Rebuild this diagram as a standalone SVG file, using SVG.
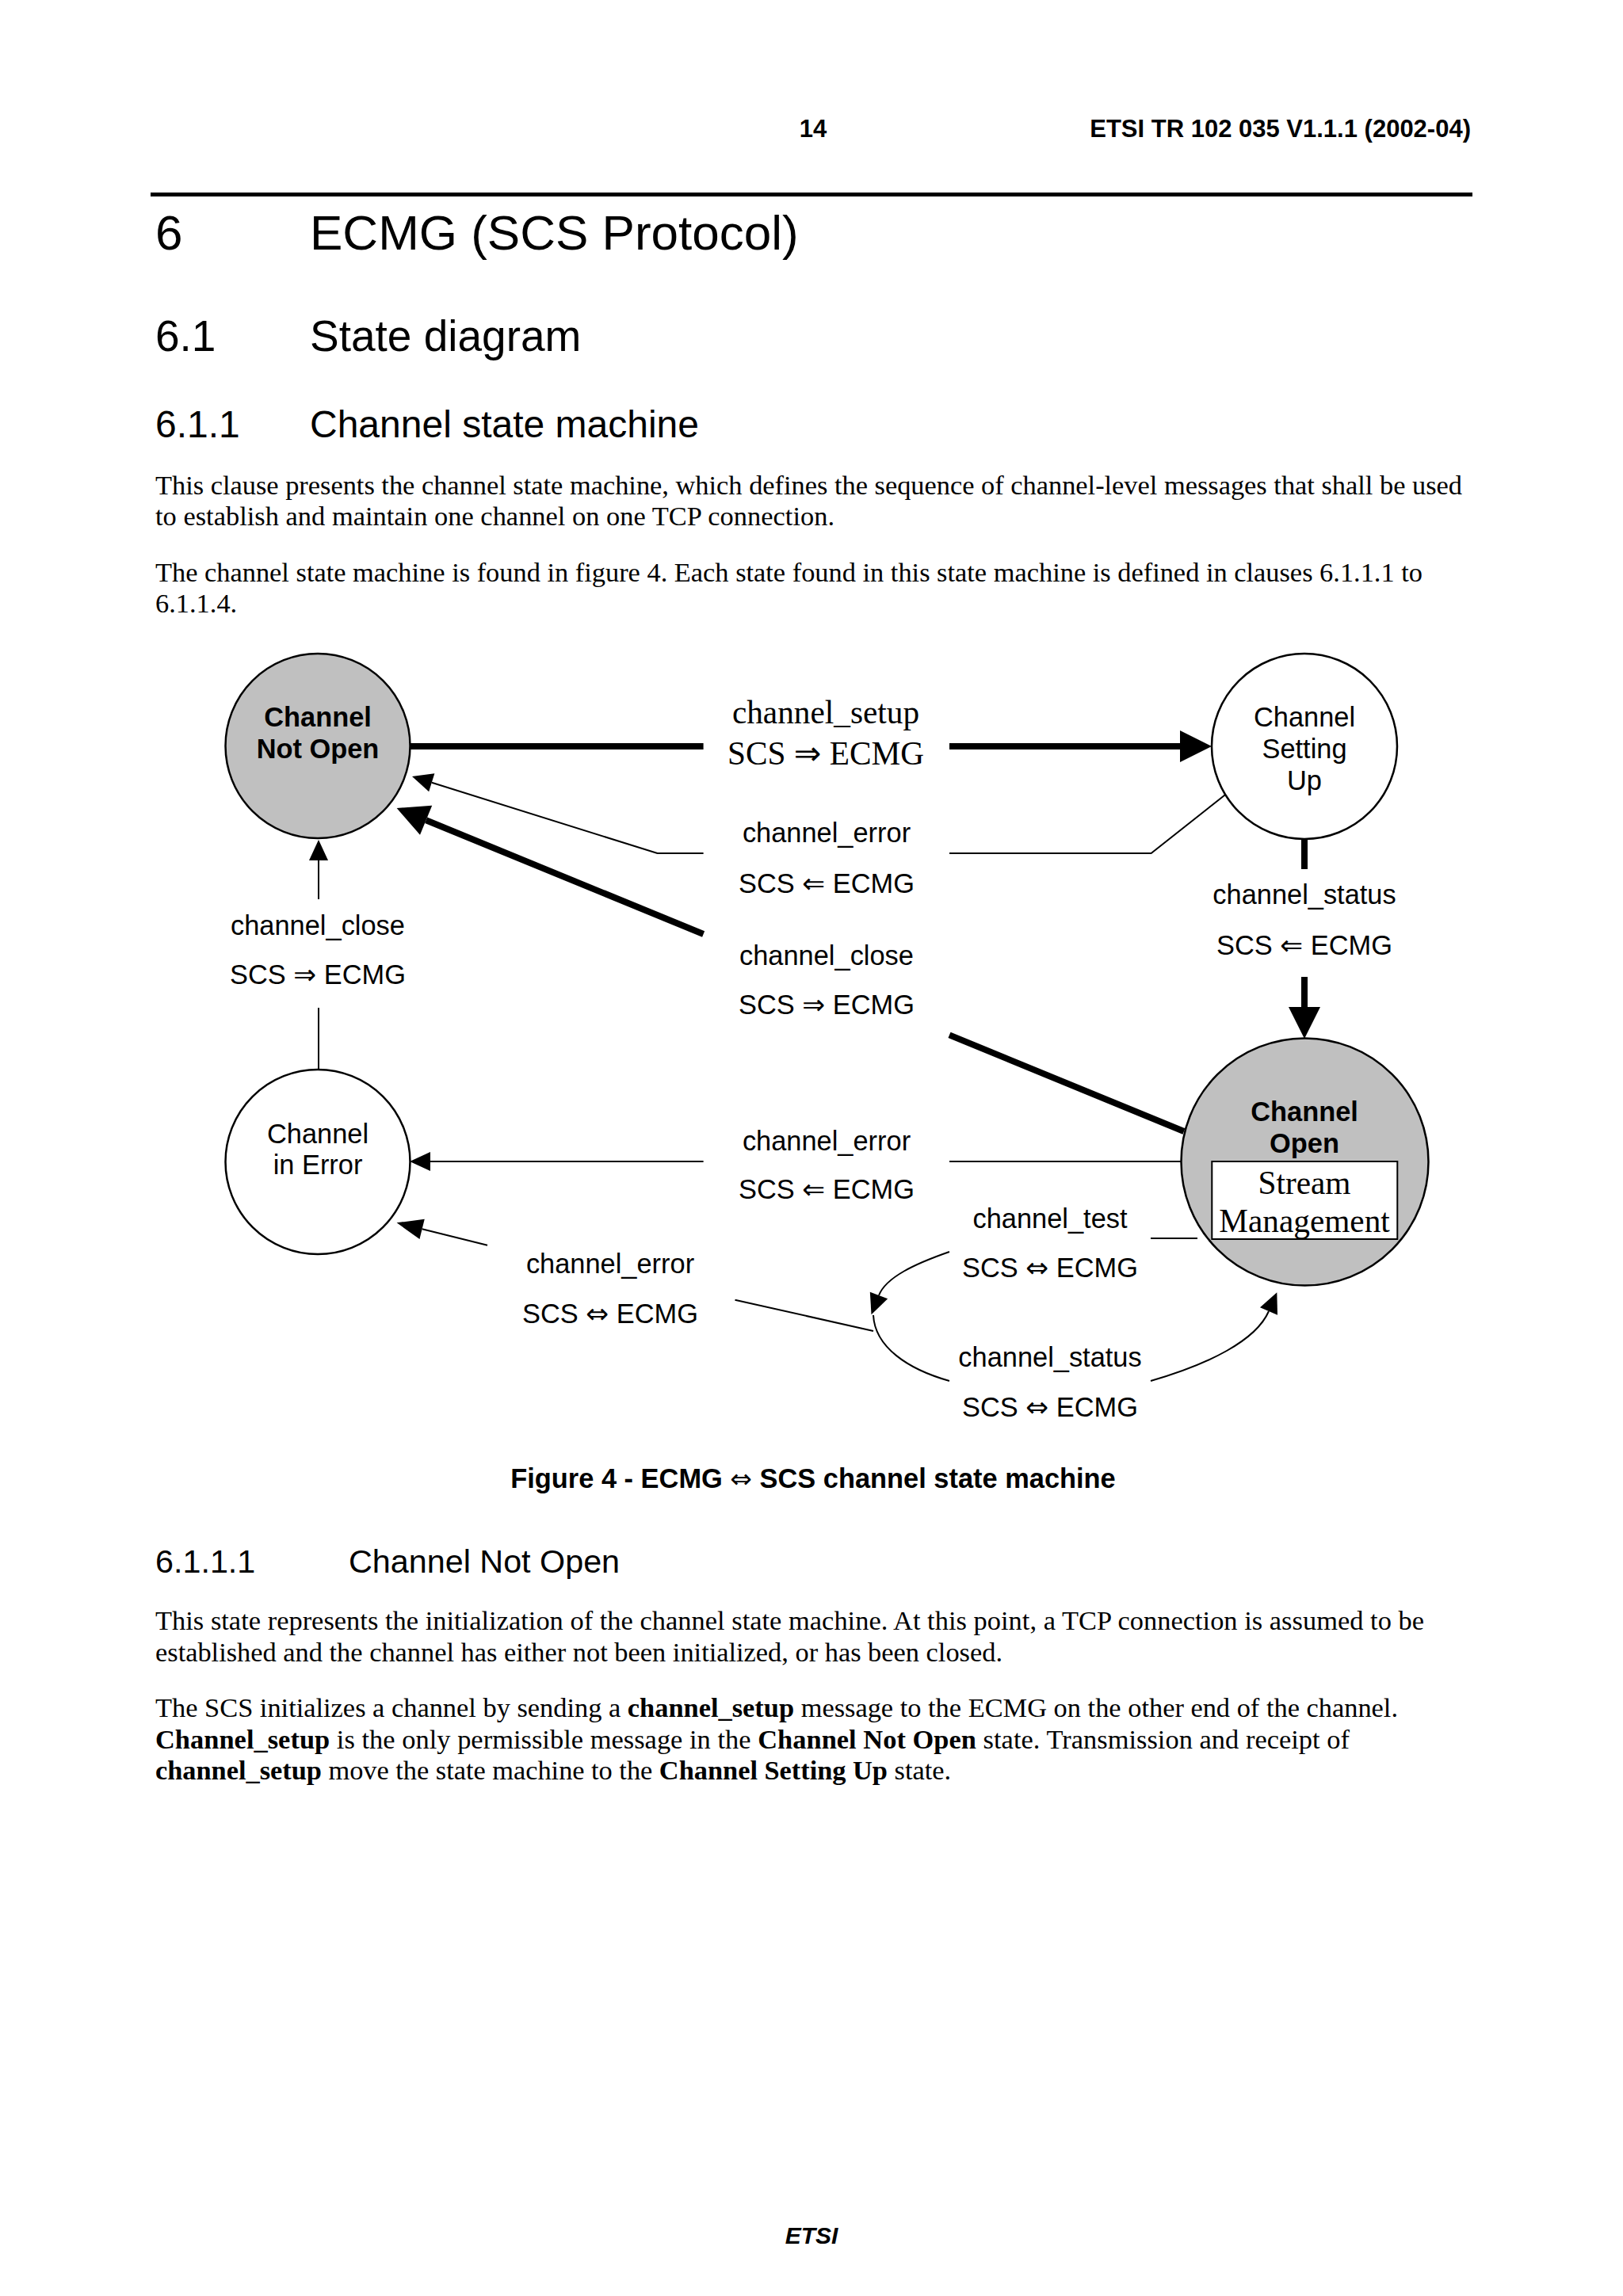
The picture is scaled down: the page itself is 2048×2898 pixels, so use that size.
<svg xmlns="http://www.w3.org/2000/svg" width="2048" height="2898" viewBox="0 0 2048 2898">
<style>
.bg{fill:#ffffff}
.hdr{font-family:"Liberation Sans",Arial,sans-serif;font-weight:bold;font-size:31px;fill:#000}
.h1{font-family:"Liberation Sans",Arial,sans-serif;font-size:62px;fill:#000}
.h2{font-family:"Liberation Sans",Arial,sans-serif;font-size:55px;fill:#000}
.h3{font-family:"Liberation Sans",Arial,sans-serif;font-size:48px;fill:#000}
.h4{font-family:"Liberation Sans",Arial,sans-serif;font-size:41.3px;fill:#000}
.body{font-family:"Liberation Serif","Times New Roman",serif;font-size:34.4px;fill:#000}
.b{font-weight:bold}
.cap{font-family:"Liberation Sans",Arial,"DejaVu Sans",sans-serif;font-weight:bold;font-size:34.4px;fill:#000;text-anchor:middle}
.foot{font-family:"Liberation Sans",Arial,sans-serif;font-weight:bold;font-style:italic;font-size:30px;fill:#000;text-anchor:middle}
.lbl{font-family:"Liberation Sans",Arial,"DejaVu Sans",sans-serif;font-size:34.4px;fill:#000;text-anchor:middle}
.lblb{font-family:"Liberation Sans",Arial,sans-serif;font-weight:bold;font-size:34.4px;fill:#000;text-anchor:middle}
.ser{font-family:"Liberation Serif","Times New Roman","DejaVu Serif",serif;font-size:41.3px;fill:#000;text-anchor:middle}
.arr{font-family:"DejaVu Sans",sans-serif;font-weight:normal}
.arrc{font-family:"DejaVu Sans",sans-serif;font-weight:normal;font-size:33px}
.st{stroke:#000;stroke-width:2.5}
.gray{fill:#c0c0c0}
.white{fill:#ffffff}
.thin{fill:none;stroke:#000;stroke-width:2}
.thick{fill:none;stroke:#000;stroke-width:8}
</style>
<defs>
<marker id="ahThick" markerUnits="userSpaceOnUse" markerWidth="42" markerHeight="42" refX="0" refY="20" orient="auto" overflow="visible">
<path d="M0,0 L40,20 L0,40 z" fill="#000"/>
</marker>
<marker id="ahThin" markerUnits="userSpaceOnUse" markerWidth="28" markerHeight="26" refX="0" refY="12" orient="auto" overflow="visible">
<path d="M0,0 L26,12 L0,24 z" fill="#000"/>
</marker>
<marker id="ahMed" markerUnits="userSpaceOnUse" markerWidth="36" markerHeight="28" refX="0" refY="13" orient="auto" overflow="visible">
<path d="M0,0 L33,13 L0,26 z" fill="#000"/>
</marker>
</defs>
<rect class="bg" x="0" y="0" width="2048" height="2898"/>

<!-- page header -->
<text class="hdr" x="1026" y="173" text-anchor="middle">14</text>
<text class="hdr" x="1856" y="173" text-anchor="end">ETSI TR 102 035 V1.1.1 (2002-04)</text>
<rect x="190" y="243" width="1668" height="5" fill="#000"/>

<text class="h1" x="196" y="315">6</text>
<text class="h1" x="391" y="315">ECMG (SCS Protocol)</text>
<text class="h2" x="196" y="443">6.1</text>
<text class="h2" x="391" y="443">State diagram</text>
<text class="h3" x="196" y="552">6.1.1</text>
<text class="h3" x="391" y="552">Channel state machine</text>

<text class="body" x="196" y="624" textLength="1649" lengthAdjust="spacing">This clause presents the channel state machine, which defines the sequence of channel-level messages that shall be used</text>
<text class="body" x="196" y="663" textLength="857" lengthAdjust="spacing">to establish and maintain one channel on one TCP connection.</text>
<text class="body" x="196" y="734" textLength="1599" lengthAdjust="spacing">The channel state machine is found in figure 4. Each state found in this state machine is defined in clauses 6.1.1.1 to</text>
<text class="body" x="196" y="773">6.1.1.4.</text>

<!-- connectors -->
<g id="connectors">
<!-- channel_setup: Not Open -> Setting Up -->
<path class="thick" d="M517,942 L887.6,942"/>
<path class="thick" d="M1198,942 L1489,942" marker-end="url(#ahThick)"/>
<!-- channel_error: Setting Up -> Not Open -->
<path class="thin" d="M1550,1000 L1452.6,1077 L1198,1077"/>
<path class="thin" d="M887.6,1077 L829.5,1077 L544.8,987.8" marker-end="url(#ahThin)"/>
<!-- channel_close: Open -> Not Open -->
<path class="thick" d="M1494,1428 L1198,1306.4"/>
<path class="thick" d="M887.6,1179 L537.6,1035.2" marker-end="url(#ahThick)"/>
<!-- channel_status: Setting Up -> Open -->
<path class="thick" d="M1646,1059 L1646,1097"/>
<path class="thick" d="M1646,1233 L1646,1271" marker-end="url(#ahThick)"/>
<!-- channel_close: In Error -> Not Open -->
<path class="thin" d="M402,1350 L402,1272"/>
<path class="thin" d="M402,1135 L402,1086" marker-end="url(#ahThin)"/>
<!-- channel_error: Open -> In Error -->
<path class="thin" d="M1491,1466 L1198,1466"/>
<path class="thin" d="M887.6,1466 L543,1466" marker-end="url(#ahThin)"/>
<!-- channel_error (loop) -> In Error -->
<path class="thin" d="M1102,1680 L927.5,1640.7"/>
<path class="thin" d="M615,1571.7 L532.6,1551.3" marker-end="url(#ahMed)"/>
<!-- channel_test / channel_status loop -->
<path class="thin" d="M1452,1563 L1511,1563"/>
<path class="thin" d="M1198,1580 C1155,1595 1118,1612 1109,1635" marker-end="url(#ahThin)"/>
<path class="thin" d="M1102,1660 C1104,1700 1145,1728 1198,1743"/>
<path class="thin" d="M1452,1743 C1525,1722 1585,1692 1601,1655" marker-end="url(#ahThin)"/>

<!-- connector labels -->
<text class="ser" x="1042" y="913">channel_setup</text>
<text class="ser" x="1042" y="965">SCS <tspan class="arr">⇒</tspan> ECMG</text>
<text class="lbl" x="1043" y="1063">channel_error</text>
<text class="lbl" x="1043" y="1127">SCS <tspan class="arr">⇐</tspan> ECMG</text>
<text class="lbl" x="1043" y="1218">channel_close</text>
<text class="lbl" x="1043" y="1280">SCS <tspan class="arr">⇒</tspan> ECMG</text>
<text class="lbl" x="401" y="1180">channel_close</text>
<text class="lbl" x="401" y="1242">SCS <tspan class="arr">⇒</tspan> ECMG</text>
<text class="lbl" x="1646" y="1141">channel_status</text>
<text class="lbl" x="1646" y="1205">SCS <tspan class="arr">⇐</tspan> ECMG</text>
<text class="lbl" x="1043" y="1452">channel_error</text>
<text class="lbl" x="1043" y="1513">SCS <tspan class="arr">⇐</tspan> ECMG</text>
<text class="lbl" x="770" y="1607">channel_error</text>
<text class="lbl" x="770" y="1670">SCS <tspan class="arr">⇔</tspan> ECMG</text>
<text class="lbl" x="1325" y="1550">channel_test</text>
<text class="lbl" x="1325" y="1612">SCS <tspan class="arr">⇔</tspan> ECMG</text>
<text class="lbl" x="1325" y="1725">channel_status</text>
<text class="lbl" x="1325" y="1788">SCS <tspan class="arr">⇔</tspan> ECMG</text>
</g>

<!-- nodes -->
<g id="node-channel-not-open">
<circle class="gray st" cx="401" cy="941.5" r="116.5"/>
<text class="lblb" x="401" y="917">Channel</text>
<text class="lblb" x="401" y="957">Not Open</text>
</g>
<g id="node-channel-setting-up">
<circle class="white st" cx="1646" cy="942" r="117"/>
<text class="lbl" x="1646" y="917">Channel</text>
<text class="lbl" x="1646" y="957">Setting</text>
<text class="lbl" x="1646" y="997">Up</text>
</g>
<g id="node-channel-in-error">
<circle class="white st" cx="401" cy="1466.5" r="116.5"/>
<text class="lbl" x="401" y="1443">Channel</text>
<text class="lbl" x="401" y="1482">in Error</text>
</g>
<g id="node-channel-open">
<circle class="gray st" cx="1646.5" cy="1466.5" r="156"/>
<text class="lblb" x="1646" y="1415">Channel</text>
<text class="lblb" x="1646" y="1455">Open</text>
<rect class="white" x="1529.3" y="1466" width="234" height="98" stroke="#000" stroke-width="2"/>
<text class="ser" x="1646" y="1507">Stream</text>
<text class="ser" x="1646" y="1555">Management</text>
</g>

<!-- caption and following text -->
<text class="cap" x="1026" y="1878">Figure 4 - ECMG <tspan class="arrc">⇔</tspan> SCS channel state machine</text>

<text class="h4" x="196" y="1985">6.1.1.1</text>
<text class="h4" x="440" y="1985">Channel Not Open</text>

<text class="body" x="196" y="2057" textLength="1601" lengthAdjust="spacing">This state represents the initialization of the channel state machine. At this point, a TCP connection is assumed to be</text>
<text class="body" x="196" y="2097" textLength="1069" lengthAdjust="spacing">established and the channel has either not been initialized, or has been closed.</text>

<text class="body" x="196" y="2167" textLength="1568" lengthAdjust="spacing">The SCS initializes a channel by sending a <tspan class="b">channel_setup</tspan> message to the ECMG on the other end of the channel.</text>
<text class="body" x="196" y="2207" textLength="1507" lengthAdjust="spacing"><tspan class="b">Channel_setup</tspan> is the only permissible message in the <tspan class="b">Channel Not Open</tspan> state. Transmission and receipt of</text>
<text class="body" x="196" y="2246" textLength="1004" lengthAdjust="spacing"><tspan class="b">channel_setup</tspan> move the state machine to the <tspan class="b">Channel Setting Up</tspan> state.</text>

<text class="foot" x="1024" y="2832">ETSI</text>
</svg>
